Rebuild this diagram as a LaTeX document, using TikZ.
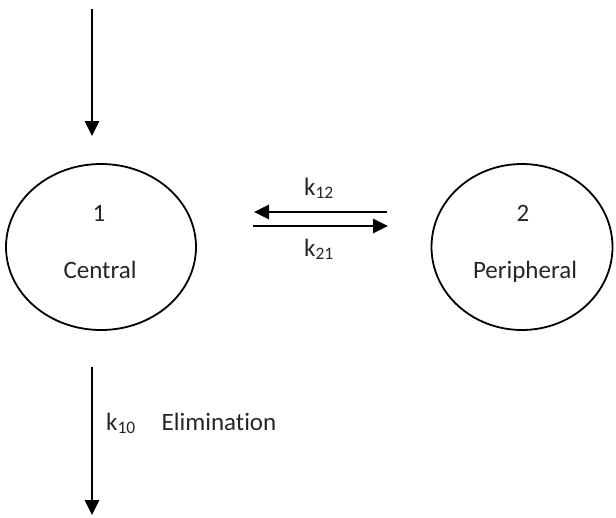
\documentclass[tikz,border=0pt]{standalone}
\usepackage{fontspec}
\setmainfont[Ligatures=NoCommon]{Carlito}
\usetikzlibrary{arrows.meta,shapes.geometric}
\tikzset{
  compartment/.style={draw, ellipse, line width=1.8pt, minimum width=#1, minimum height=166pt, inner sep=0pt},
  flow/.style={line width=2.8pt, -{Triangle[length=15pt,width=14pt]}},
  lbl/.style={anchor=base, inner sep=0pt, text=black!85}
}
\begin{document}
\begin{tikzpicture}[x=1pt, y=-1pt, font=\fontsize{25}{30}\selectfont, line join=round]
	\useasboundingbox (0,0) rectangle (616,517);
	% compartments
	\node[compartment=190pt] (central) at (101,247) {};
	\node[compartment=181pt] (peripheral) at (522,247) {};
	\node[lbl] (one) at (99,221) {1};
	\node[lbl] (centraltext) at (100,278) {Central};
	\node[lbl] (two) at (523,221) {2};
	\node[lbl] (peripheraltext) at (525,278) {Peripheral};
	% dose
	\coordinate (dosein) at (92,9);
	\coordinate (doseout) at (92,136);
	\draw[flow] (dosein) -- (doseout);
	% transfer
	\coordinate (backstart) at (387,212);
	\coordinate (backend) at (254,212);
	\coordinate (fwdstart) at (253,226);
	\coordinate (fwdend) at (388,226);
	\draw[flow] (backstart) -- (backend);
	\draw[flow] (fwdstart) -- (fwdend);
	\node[lbl] (ka) at (319,195) {k\textsubscript{12}};
	\node[lbl] (kb) at (319,256) {k\textsubscript{21}};
	% elimination
	\coordinate (elimstart) at (92,367);
	\coordinate (elimend) at (92,515);
	\draw[flow] (elimstart) -- (elimend);
	\node[lbl] (kc) at (121,430) {k\textsubscript{10}};
	\node[lbl] (elim) at (219,430) {Elimination};
\end{tikzpicture}
\end{document}
